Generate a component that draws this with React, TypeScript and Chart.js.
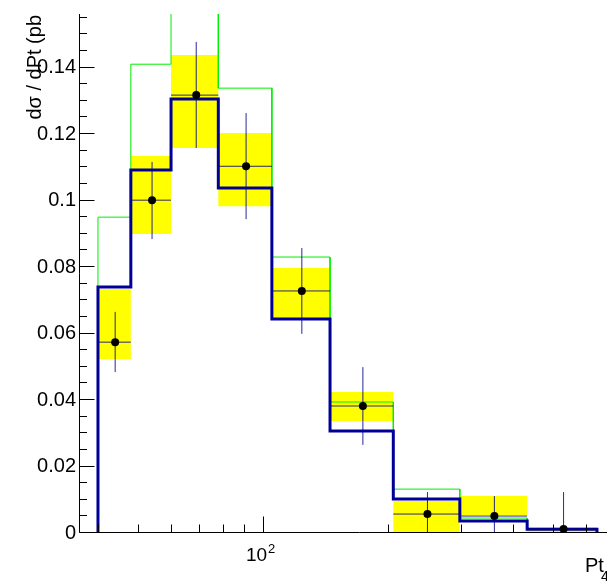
import React, { useEffect, useRef } from "react";
import { Chart, registerables } from "chart.js";

Chart.register(...registerables);

// ---- data ----
const binEdges = [40, 48, 60, 78, 105, 145, 206, 298, 433, 638];
const binCenters = [44, 54, 69, 91, 124, 174, 249, 361, 530];
const mcBlue = [0.0737, 0.1089, 0.1302, 0.1035, 0.0641, 0.0304, 0.0099, 0.0033, 0.0008];
const mcGreen = [0.0947, 0.1407, 0.17, 0.1335, 0.0827, 0.0391, 0.0129, 0.0042, 0.0009];
const dataValues = [0.0571, 0.0998, 0.1314, 0.11, 0.0725, 0.0379, 0.0054, 0.0048, 0.0009];
const statHigh = [0.0662, 0.1113, 0.1474, 0.126, 0.0854, 0.0496, 0.012, 0.0108, 0.012];
const statLow = [0.0481, 0.0881, 0.1155, 0.0941, 0.0596, 0.0262, 0, 0, 0];
const systHigh = [0.0731, 0.1131, 0.1435, 0.12, 0.0794, 0.0421, 0.0093, 0.0108, 0.0015];
const systLow = [0.052, 0.0896, 0.1155, 0.098, 0.0644, 0.0334, 0, 0.0051, 0];

const yTickValues = [0, 0.02, 0.04, 0.06, 0.08, 0.1, 0.12, 0.14];
const yTickLabels = ["0", "0.02", "0.04", "0.06", "0.08", "0.1", "0.12", "0.14"];
const yMinorTicks = [0.005, 0.01, 0.015, 0.025, 0.03, 0.035, 0.045, 0.05, 0.055, 0.065, 0.07, 0.075, 0.085, 0.09, 0.095, 0.105, 0.11, 0.115, 0.125, 0.13, 0.135, 0.145, 0.15, 0.155];
const xMajorTicks = [100];
const xMajorBase = ["10"];
const xMajorExp = ["2"];
const xMinorTicks = [40, 50, 60, 70, 80, 90, 200, 300, 400, 500, 600, 700, 800];
const xRange = [36, 810];
const yRange = [0, 0.1558];
const xTitle = "Pt";
const xTitleSub = "4l";
const yTitle = "dσ / dPt (pb";

const FONT = "'Liberation Sans', Arial, Helvetica, sans-serif";

function stepPoints(vals: number[]) {
  const pts: { x: number; y: number }[] = [{ x: binEdges[0], y: 0 }];
  vals.forEach((v, i) => {
    pts.push({ x: binEdges[i], y: v });
    pts.push({ x: binEdges[i + 1], y: v });
  });
  pts.push({ x: binEdges[binEdges.length - 1], y: 0 });
  return pts;
}

function bandPoints() {
  const pts: { x: number; y: number }[] = [];
  systHigh.forEach((v, i) => {
    pts.push({ x: binEdges[i], y: v });
    pts.push({ x: binEdges[i + 1], y: v });
  });
  for (let i = systLow.length - 1; i >= 0; i--) {
    pts.push({ x: binEdges[i + 1], y: systLow[i] });
    pts.push({ x: binEdges[i], y: systLow[i] });
  }
  return pts;
}

function errorPoints() {
  const pts: { x: number; y: number | null }[] = [];
  dataValues.forEach((v, i) => {
    pts.push({ x: binCenters[i], y: statLow[i] });
    pts.push({ x: binCenters[i], y: statHigh[i] });
    pts.push({ x: binCenters[i], y: null });
    pts.push({ x: binEdges[i], y: v });
    pts.push({ x: binEdges[i + 1], y: v });
    pts.push({ x: binEdges[i + 1], y: null });
  });
  return pts;
}

const rootAxes = {
  id: "rootAxes",
  afterDatasetsDraw(chart: any) {
    const ctx: CanvasRenderingContext2D = chart.ctx;
    const xs = chart.scales.x;
    const ys = chart.scales.y;
    const area = chart.chartArea;
    const x0 = Math.round(area.left) + 0.5;
    const y0 = Math.round(area.bottom) + 0.5;
    ctx.save();
    ctx.strokeStyle = "#000";
    ctx.lineWidth = 1;
    ctx.beginPath();
    ctx.moveTo(x0, area.top);
    ctx.lineTo(x0, y0);
    ctx.lineTo(area.right, y0);
    // y ticks
    yTickValues.forEach((v) => {
      const y = Math.round(ys.getPixelForValue(v)) + 0.5;
      ctx.moveTo(x0, y);
      ctx.lineTo(x0 + 15, y);
    });
    yMinorTicks.forEach((v) => {
      const y = Math.round(ys.getPixelForValue(v)) + 0.5;
      ctx.moveTo(x0, y);
      ctx.lineTo(x0 + 7.5, y);
    });
    // x ticks
    xMajorTicks.forEach((v) => {
      const x = Math.round(xs.getPixelForValue(v)) + 0.5;
      ctx.moveTo(x, y0);
      ctx.lineTo(x, y0 - 16);
    });
    xMinorTicks.forEach((v) => {
      const x = Math.round(xs.getPixelForValue(v)) + 0.5;
      ctx.moveTo(x, y0);
      ctx.lineTo(x, y0 - 8);
    });
    ctx.stroke();

    ctx.fillStyle = "#000";
    // y labels
    ctx.font = `20px ${FONT}`;
    ctx.textAlign = "right";
    ctx.textBaseline = "middle";
    yTickValues.forEach((v, i) => {
      ctx.fillText(yTickLabels[i], area.left - 3, ys.getPixelForValue(v) + 1);
    });
    // x labels
    ctx.textBaseline = "alphabetic";
    xMajorTicks.forEach((v, i) => {
      const x = xs.getPixelForValue(v);
      ctx.font = `19px ${FONT}`;
      ctx.textAlign = "right";
      ctx.fillText(xMajorBase[i], x + 4, area.bottom + 29);
      ctx.font = `13px ${FONT}`;
      ctx.textAlign = "left";
      ctx.fillText(xMajorExp[i], x + 5, area.bottom + 21);
    });
    // x title
    ctx.font = `20px ${FONT}`;
    ctx.textAlign = "left";
    ctx.fillText(xTitle, 585, area.bottom + 40);
    ctx.font = `14px ${FONT}`;
    ctx.fillText(xTitleSub, 601, area.bottom + 49);
    // y title
    ctx.translate(41, area.top + 1);
    ctx.rotate(-Math.PI / 2);
    ctx.font = `20px ${FONT}`;
    ctx.textAlign = "right";
    ctx.fillText(yTitle, 0, 0);
    ctx.restore();
  },
};

export default function App() {
  const ref = useRef<HTMLCanvasElement | null>(null);

  useEffect(() => {
    if (!ref.current) return;
    const chart = new Chart(ref.current, {
      type: "scatter",
      data: {
        datasets: [
          {
            label: "syst",
            data: bandPoints(),
            showLine: true,
            fill: "shape",
            backgroundColor: "#ffff00",
            borderColor: "rgba(0,0,0,0)",
            borderWidth: 0,
            pointRadius: 0,
            order: 10,
          } as any,
          {
            label: "green",
            data: stepPoints(mcGreen),
            showLine: true,
            borderColor: "#00ee00",
            borderWidth: 1,
            pointRadius: 0,
            fill: false,
            order: 5,
          },
          {
            label: "blue",
            data: stepPoints(mcBlue),
            showLine: true,
            borderColor: "#000099",
            borderWidth: 3,
            pointRadius: 0,
            fill: false,
            order: 4,
          },
          {
            label: "errors",
            data: errorPoints() as any,
            showLine: true,
            spanGaps: false,
            borderColor: "rgba(0,0,140,0.85)",
            borderWidth: 1,
            pointRadius: 0,
            fill: false,
            order: 3,
          },
          {
            label: "data",
            data: binCenters.map((x, i) => ({ x, y: dataValues[i] })),
            showLine: false,
            pointRadius: 4,
            pointBackgroundColor: "#000",
            pointBorderWidth: 0,
            clip: false as any,
            order: 1,
          },
        ],
      },
      options: {
        animation: false,
        responsive: false,
        devicePixelRatio: 1,
        layout: { padding: { left: 79, top: 14, right: 40, bottom: 49 } },
        scales: {
          x: { type: "logarithmic", min: xRange[0], max: xRange[1], display: false },
          y: { type: "linear", min: yRange[0], max: yRange[1], display: false },
        },
        plugins: {
          legend: { display: false },
          tooltip: { enabled: false },
        },
        events: [],
      },
      plugins: [rootAxes],
    });
    return () => chart.destroy();
  }, []);

  return (
    <div
      style={{
        position: "absolute",
        left: 0,
        top: 0,
        width: 607,
        height: 581,
        overflow: "hidden",
        background: "#fff",
      }}
    >
      <canvas ref={ref} width={680} height={581} style={{ display: "block", width: 680, height: 581 }} />
    </div>
  );
}
